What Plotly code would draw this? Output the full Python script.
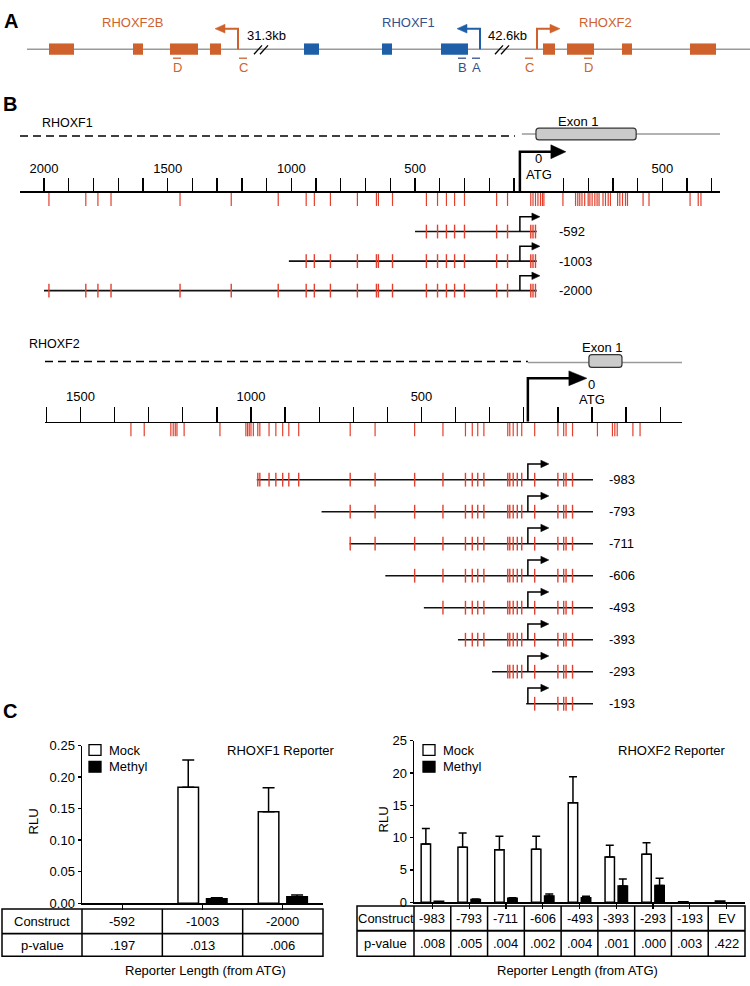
import plotly.graph_objects as go

FONT = "Liberation Sans, Arial, Helvetica, sans-serif"
ORANGE = "#CF622C"
BLUE = "#1F5FA8"
BLUE_TXT = "#34508F"
RED = "#E2402E"
GRAY = "#9A9A9A"

# ---------------- Panel A : locus schematic (schematic units along the locus) ----------------
a_f2b_exons = [[49, 74], [133, 143], [170, 198], [210, 221]]
a_f1_exons = [[304, 319], [382, 392], [441, 468]]
a_f2_exons = [[543, 555], [567, 594], [622, 632], [690, 716]]
a_locus_span = [27, 750]
a_tss_x = [238, 480, 537]
a_tss_dir = [-1, -1, 1]
a_gene_names = ["RHOXF2B", "RHOXF1", "RHOXF2"]
a_gene_label_x = [132, 408, 605]
a_gap_x = [262, 503]
a_gap_text = ["31.3kb", "42.6kb"]
a_primer_text = ["D", "C", "B", "A", "C", "D"]
a_primer_x = [177, 243, 462, 476, 529, 588]
a_primer_gene = [0, 0, 1, 1, 2, 2]

# ---------------- Panel B : RHOXF1 promoter (bp relative to ATG) ----------------
f1_cpg_bp = [-1980, -1831, -1782, -1729, -1450, -1243, -1053, -940, -907, -842, -733,
             -656, -648, -591, -454, -409, -373, -340, -300, -170, -126,
             -32, -23, -13, -3, 7, 15, 21,
             98, 149, 158, 166, 175, 186, 200, 207, 216, 227, 236, 244, 260, 270, 281,
             290, 319, 328, 339, 351, 359, 422, 446, 612, 645, 656]
f1_construct_names = ["-592", "-1003", "-2000"]
f1_construct_start_bp = [-500, -1010, -2000]
f1_construct_end_bp = -8
f1_tss_bp = -76
f1_exon1_bp = [-11, 394]
f1_upstream_bp = [-2097, -96]
f1_transcript_bp = [-68, 733]
f1_ruler_range = [-2097, 733]
f1_ruler_ticks = [-2000, -1900, -1800, -1700, -1600, -1500, -1400, -1300, -1200, -1100,
                  -1000, -900, -800, -700, -600, -500, -400, -300, -200, -100,
                  100, 200, 300, 400, 500, 600, 700]
f1_ruler_labels = {-2000: "2000", -1500: "1500", -1000: "1000", -500: "500", 500: "500"}

# ---------------- Panel B : RHOXF2 promoter ----------------
f2_cpg_bp = [-1352, -1313, -1235, -1228, -1222, -1217, -1196, -1091, -1015, -1010, -1005,
             -1000, -993, -980, -974, -947, -927, -907, -889, -860, -709, -636, -520,
             -437, -371, -351, -335, -317, -247, -241, -231, -219, -206, -168, -100,
             -83, -76, -57, 16, 60, 67, 74, 120, 141]
f2_construct_names = ["-983", "-793", "-711", "-606", "-493", "-393", "-293", "-193"]
f2_construct_start_bp = [-983, -793, -711, -606, -493, -393, -293, -193]
f2_construct_end_bp = 3
f2_tss_bp = -188
f2_exon1_bp = [-9, 88]
f2_upstream_bp = [-1604, -188]
f2_transcript_bp = [-188, 264]
f2_ruler_range = [-1604, 264]
f2_ruler_ticks = [-1600, -1500, -1400, -1300, -1200, -1100, -1000, -900, -800, -700,
                  -600, -500, -400, -300, -200, -100, 0, 100, 200]
f2_ruler_labels = {-1500: "1500", -1000: "1000", -500: "500"}

# ---------------- Panel C : reporter assays ----------------
c1_constructs = ["-592", "-1003", "-2000"]
c1_mock = [0.0, 0.184, 0.145]
c1_mock_err = [None, 0.043, 0.038]
c1_methyl = [0.0, 0.007, 0.010]
c1_methyl_err = [None, 0.0015, 0.003]
c1_pvalues = [".197", ".013", ".006"]

c2_constructs = ["-983", "-793", "-711", "-606", "-493", "-393", "-293", "-193", "EV"]
c2_mock = [9.0, 8.5, 8.1, 8.2, 15.4, 7.0, 7.4, 0.05, 0.2]
c2_mock_err = [2.4, 2.2, 2.1, 2.0, 4.0, 1.8, 1.8, None, None]
c2_methyl = [0.15, 0.4, 0.6, 0.95, 0.7, 2.5, 2.6, 0.0, 0.0]
c2_methyl_err = [None, 0.1, 0.1, 0.3, 0.2, 1.1, 1.1, None, None]
c2_pvalues = [".008", ".005", ".004", ".002", ".004", ".001", ".000", ".003", ".422"]

# ---------------- layout geometry (pixels) ----------------
W, H = 750, 986
X2_DOM = [20 / W, 720 / W]
X3_DOM = [45 / W, 682 / W]
X4_DOM = [82 / W, 323 / W]
Y4_DOM = [1 - 910 / H, 1 - 750 / H]
X5_DOM = [414 / W, 745 / W]
Y5_DOM = [1 - 909 / H, 1 - 745 / H]

shapes = []
annotations = []
traces = []


def txt(x, y, s, size=13, color="black", xref="x", yref="y", xanchor="center", bold=False, angle=0):
    annotations.append(dict(x=x, y=y, xref=xref, yref=yref, text=("<b>%s</b>" % s) if bold else s,
                            showarrow=False, xanchor=xanchor, yanchor="middle", textangle=angle,
                            font=dict(family=FONT, size=size, color=color)))


def seg_trace(xs, y0, y1, xaxis, color, width, dash=None):
    X, Y = [], []
    for v in xs:
        X += [v, v, None]
        Y += [y0, y1, None]
    traces.append(go.Scatter(x=X, y=Y, xaxis=xaxis, yaxis="y", mode="lines",
                             line=dict(color=color, width=width, dash=dash),
                             hoverinfo="skip", showlegend=False))


def hline_trace(x0, x1, y, xaxis, color, width, dash=None):
    traces.append(go.Scatter(x=[x0, x1], y=[y, y], xaxis=xaxis, yaxis="y", mode="lines",
                             line=dict(color=color, width=width, dash=dash),
                             hoverinfo="skip", showlegend=False))


def arrow_shapes(xref, anchor, ybase, rise, run, head_len, head_half, color, width, direction=1):
    d = direction
    yt = ybase - rise
    shapes.append(dict(type="path", xref=xref, yref="y", xsizemode="pixel", xanchor=anchor,
                       path="M 0,%g L 0,%g L %g,%g" % (ybase, yt, d * run, yt),
                       line=dict(color=color, width=width)))
    shapes.append(dict(type="path", xref=xref, yref="y", xsizemode="pixel", xanchor=anchor,
                       path="M %g,%g L %g,%g L %g,%g Z" % (d * (run - 1), yt - head_half,
                                                         d * (run - 1 + head_len), yt,
                                                         d * (run - 1), yt + head_half),
                       fillcolor=color, line=dict(color=color, width=0.5)))


def px_of(dom, rng, v):
    return (dom[0] + (v - rng[0]) / (rng[1] - rng[0]) * (dom[1] - dom[0])) * W


# canvas subplot (pixel space) ------------------------------------------------
traces.append(go.Scatter(x=[0], y=[0], xaxis="x", yaxis="y", mode="markers",
                         marker=dict(opacity=0), hoverinfo="skip", showlegend=False))

# ================= Panel A =================
txt(11, 14, "A", size=20, bold=True)
A_Y = 43
shapes.append(dict(type="line", xref="x", yref="y", x0=a_locus_span[0], x1=a_locus_span[1],
                   y0=A_Y, y1=A_Y, line=dict(color=GRAY, width=1.5)))
for exons, col in [(a_f2b_exons, ORANGE), (a_f1_exons, BLUE), (a_f2_exons, ORANGE)]:
    for e0, e1 in exons:
        shapes.append(dict(type="rect", xref="x", yref="y", x0=e0, x1=e1, y0=A_Y - 6, y1=A_Y + 5.5,
                           fillcolor=col, line=dict(width=0)))
gene_cols = [ORANGE, BLUE, ORANGE]
for i, (tx, d) in enumerate(zip(a_tss_x, a_tss_dir)):
    arrow_shapes("x", tx, A_Y, 21, 14, 10, 4.5, gene_cols[i], 2, direction=d)
label_cols = [ORANGE, BLUE_TXT, ORANGE]
for name, lx, c in zip(a_gene_names, a_gene_label_x, label_cols):
    txt(lx, 16, name, color=c)
for gx, gt in zip(a_gap_x, a_gap_text):
    for off in (-6, 0):
        shapes.append(dict(type="line", xref="x", yref="y", xsizemode="pixel", xanchor=gx,
                           x0=off - 2, x1=off + 6, y0=A_Y + 5, y1=A_Y - 4,
                           line=dict(color="black", width=1.3)))
    txt(gx + 4, 28.5, gt)
primer_cols = [ORANGE, BLUE_TXT, ORANGE]
for pt, pxx, g in zip(a_primer_text, a_primer_x, a_primer_gene):
    txt(pxx, 61, pt, color=primer_cols[g])
    shapes.append(dict(type="line", xref="x", yref="y", xsizemode="pixel", xanchor=pxx,
                       x0=-4, x1=4, y0=52, y1=52, line=dict(color=primer_cols[g], width=1.3)))

# ================= Panel B : RHOXF1 =================
txt(10, 98, "B", size=20, bold=True)
txt(67, 118, "RHOXF1", size=12.5)
hline_trace(f1_upstream_bp[0], f1_upstream_bp[1], 131, "x2", "black", 1.4, dash="8px,5px")
hline_trace(f1_transcript_bp[0], f1_transcript_bp[1], 129, "x2", GRAY, 1.4)


def rounded_box(xref, x0, x1, y0, y1, rx, ry):
    p = ("M %g,%g L %g,%g Q %g,%g %g,%g L %g,%g Q %g,%g %g,%g L %g,%g Q %g,%g %g,%g "
         "L %g,%g Q %g,%g %g,%g Z") % (
        x0 + rx, y0, x1 - rx, y0, x1, y0, x1, y0 + ry, x1, y1 - ry, x1, y1, x1 - rx, y1,
        x0 + rx, y1, x0, y1, x0, y1 - ry, x0, y0 + ry, x0, y0, x0 + rx, y0)
    shapes.append(dict(type="path", xref=xref, yref="y", path=p, fillcolor="#CBCBCB",
                       line=dict(color="#333333", width=1.2)))


f1_bp_per_px = (f1_ruler_range[1] - f1_ruler_range[0]) / ((X2_DOM[1] - X2_DOM[0]) * W)
rounded_box("x2", f1_exon1_bp[0], f1_exon1_bp[1], 123, 135, 3 * f1_bp_per_px, 3)
txt(578, 116, "Exon 1")

seg_trace(f1_cpg_bp, 188, 202, "x2", RED, 1.2)
arrow_shapes("x2", f1_tss_bp, 187, 40, 32, 15, 7, "black", 2.5)
txt(0, 154, "0", xref="x2")
txt(0, 170, "ATG", xref="x2")

F1_ROWS = [228, 258, 288]
for name, st, ry in zip(f1_construct_names, f1_construct_start_bp, F1_ROWS):
    hline_trace(st, f1_construct_end_bp, ry, "x2", "#111111", 1.6)
    seg_trace([c for c in f1_cpg_bp if st <= c <= f1_construct_end_bp], ry - 7, ry + 7, "x2", RED, 1.4)
    arrow_shapes("x2", f1_tss_bp, ry, 15, 13, 8, 3.8, "black", 1.5)
    txt(557, ry, name, xanchor="left")

# ================= Panel B : RHOXF2 =================
txt(54, 342, "RHOXF2", size=12.5)
hline_trace(f2_upstream_bp[0], f2_upstream_bp[1], 360, "x3", "black", 1.4, dash="8px,5px")
hline_trace(f2_transcript_bp[0], f2_transcript_bp[1], 361, "x3", GRAY, 1.4)
f2_bp_per_px = (f2_ruler_range[1] - f2_ruler_range[0]) / ((X3_DOM[1] - X3_DOM[0]) * W)
rounded_box("x3", f2_exon1_bp[0], f2_exon1_bp[1], 353, 366, 3 * f2_bp_per_px, 3)
txt(602, 346, "Exon 1")

seg_trace(f2_cpg_bp, 422, 436, "x3", RED, 1.2)
arrow_shapes("x3", f2_tss_bp, 421, 44, 42, 18, 7.5, "black", 2.5)
txt(0, 383, "0", xref="x3")
txt(0, 399, "ATG", xref="x3")

F2_ROWS = [480 + 32.5 * i for i in range(len(f2_construct_names))]
for name, st, ry in zip(f2_construct_names, f2_construct_start_bp, F2_ROWS):
    hline_trace(st, f2_construct_end_bp, ry, "x3", "#111111", 1.6)
    seg_trace([c for c in f2_cpg_bp if st <= c <= f2_construct_end_bp], ry - 7, ry + 7, "x3", RED, 1.4)
    arrow_shapes("x3", f2_tss_bp, ry, 16, 14, 8, 3.8, "black", 1.5)
    txt(607, ry, name, xanchor="left")

# ================= Panel C =================
txt(10, 715, "C", size=20, bold=True)


def bar_line(vals):
    return dict(color="black", width=[1.5 if v > 0 else 0 for v in vals])


def err(arr, width):
    # missing error values are passed as non-numeric so plotly.js skips drawing them
    up = [("NaN" if v is None else v) for v in arr]
    down = [("NaN" if v is None else 0) for v in arr]
    return dict(type="data", array=up, arrayminus=down, symmetric=False,
                color="black", thickness=1.5, width=width)


x_c1 = list(range(len(c1_constructs)))
x_c2 = list(range(len(c2_constructs)))
traces.append(go.Bar(x=x_c1, y=c1_mock, xaxis="x4", yaxis="y4", name="Mock",
                     marker=dict(color="white", line=bar_line(c1_mock)), error_y=err(c1_mock_err, 6),
                     showlegend=False, offsetgroup="mock"))
traces.append(go.Bar(x=x_c1, y=c1_methyl, xaxis="x4", yaxis="y4", name="Methyl",
                     marker=dict(color="black", line=bar_line(c1_methyl)), error_y=err(c1_methyl_err, 6),
                     showlegend=False, offsetgroup="methyl"))
traces.append(go.Bar(x=x_c2, y=c2_mock, xaxis="x5", yaxis="y5", name="Mock",
                     marker=dict(color="white", line=bar_line(c2_mock)), error_y=err(c2_mock_err, 4),
                     showlegend=False, offsetgroup="mock"))
traces.append(go.Bar(x=x_c2, y=c2_methyl, xaxis="x5", yaxis="y5", name="Methyl",
                     marker=dict(color="black", line=bar_line(c2_methyl)), error_y=err(c2_methyl_err, 4),
                     showlegend=False, offsetgroup="methyl"))

# legends, titles, axis titles
for lx, title, tx in [(89, "RHOXF1 Reporter", 281), (423, "RHOXF2 Reporter", 672)]:
    shapes.append(dict(type="rect", xref="x", yref="y", x0=lx, x1=lx + 12, y0=749, y1=760,
                       fillcolor="white", line=dict(color="black", width=1.3)))
    shapes.append(dict(type="rect", xref="x", yref="y", x0=lx, x1=lx + 12, y0=766, y1=777,
                       fillcolor="black", line=dict(color="black", width=1.3)))
    txt(lx + 18, 754.5, "Mock", xanchor="left")
    txt(lx + 18, 771.5, "Methyl", xanchor="left")
    txt(tx, 755, title)
txt(33, 827, "RLU", angle=-90)
txt(383, 825, "RLU", angle=-90)
txt(205, 978, "Reporter Length (from ATG)")
txt(577, 978, "Reporter Length (from ATG)")


# tables
def table(xdom, xrng, n, first_left, y_top, y_mid, y_bot, names, pvals, xref):
    edges = [first_left] + [px_of(xdom, xrng, i - 0.5) for i in range(n + 1)]
    shapes.append(dict(type="rect", xref="x", yref="y", x0=edges[0], x1=edges[-1], y0=y_top, y1=y_bot,
                       line=dict(color="black", width=1.5)))
    shapes.append(dict(type="line", xref="x", yref="y", x0=edges[0], x1=edges[-1], y0=y_mid, y1=y_mid,
                       line=dict(color="black", width=1.8)))
    for e in edges[1:-1]:
        shapes.append(dict(type="line", xref="x", yref="y", x0=e, x1=e, y0=y_top, y1=y_bot,
                           line=dict(color="black", width=1.5)))
    c0 = (edges[0] + edges[1]) / 2
    r1 = (y_top + y_mid) / 2
    r2 = (y_mid + y_bot) / 2
    txt(c0, r1, "Construct")
    txt(c0, r2, "p-value")
    for i, (nm, pv) in enumerate(zip(names, pvals)):
        txt(i, r1, nm, xref=xref)
        txt(i, r2, pv, xref=xref)


table(X4_DOM, [-0.5, 2.5], len(c1_constructs), 2, 916, 941, 964, c1_constructs, c1_pvalues, "x4")
table(X5_DOM, [-0.5, 8.5], len(c2_constructs), 357, 913, 938, 964, c2_constructs, c2_pvalues, "x5")

fig = go.Figure(traces)

hidden = dict(visible=False, fixedrange=True, showgrid=False, zeroline=False)
ruler = dict(anchor="free", side="top", showline=True, linecolor="black", linewidth=1.8,
             ticks="outside", tickwidth=1.3, tickcolor="black", tickmode="array",
             tickfont=dict(family=FONT, size=13, color="black"), showgrid=False, zeroline=False,
             fixedrange=True, automargin=False)
chart_x = dict(showline=True, linecolor="black", linewidth=1.5, ticks="outside", ticklen=5,
               tickwidth=1.3, tickcolor="black", showticklabels=False, showgrid=False,
               zeroline=False, fixedrange=True)
chart_y = dict(showline=True, linecolor="black", linewidth=1.5, ticks="outside", ticklen=3,
               tickwidth=1.3, tickcolor="black", tickfont=dict(family=FONT, size=13, color="black"),
               showgrid=False, zeroline=False, fixedrange=True, tickmode="array")

fig.update_layout(
    width=W, height=H, margin=dict(l=0, r=0, t=0, b=0),
    paper_bgcolor="white", plot_bgcolor="rgba(0,0,0,0)",
    font=dict(family=FONT, size=13, color="black"),
    barmode="group", bargap=0.29, bargroupgap=0.28,
    showlegend=False,
    xaxis=dict(domain=[0, 1], range=[0, W], anchor="y", **hidden),
    yaxis=dict(domain=[0, 1], range=[H, 0], anchor="x", **hidden),
    xaxis2=dict(domain=X2_DOM, range=f1_ruler_range, position=1 - 187 / H, ticklen=13,
                tickvals=f1_ruler_ticks, ticktext=[f1_ruler_labels.get(t, "") for t in f1_ruler_ticks],
                **ruler),
    xaxis3=dict(domain=X3_DOM, range=f2_ruler_range, position=1 - 421 / H, ticklen=15,
                tickvals=f2_ruler_ticks, ticktext=[f2_ruler_labels.get(t, "") for t in f2_ruler_ticks],
                **ruler),
    xaxis4=dict(domain=X4_DOM, range=[-0.5, 2.5], anchor="y4", tickvals=x_c1, **chart_x),
    yaxis4=dict(domain=Y4_DOM, range=[0, 0.25], anchor="x4",
                tickvals=[0, 0.05, 0.10, 0.15, 0.20, 0.25],
                ticktext=["0.00", "0.05", "0.10", "0.15", "0.20", "0.25"], **chart_y),
    xaxis5=dict(domain=X5_DOM, range=[-0.5, 8.5], anchor="y5", tickvals=x_c2, **chart_x),
    yaxis5=dict(domain=Y5_DOM, range=[0, 25], anchor="x5",
                tickvals=[0, 5, 10, 15, 20, 25], ticktext=["0", "5", "10", "15", "20", "25"], **chart_y),
    shapes=shapes,
    annotations=annotations,
)

fig.write_html("out.html", config={"staticPlot": True},
               post_script="document.body.style.margin='0px';document.body.style.overflow='hidden';")
